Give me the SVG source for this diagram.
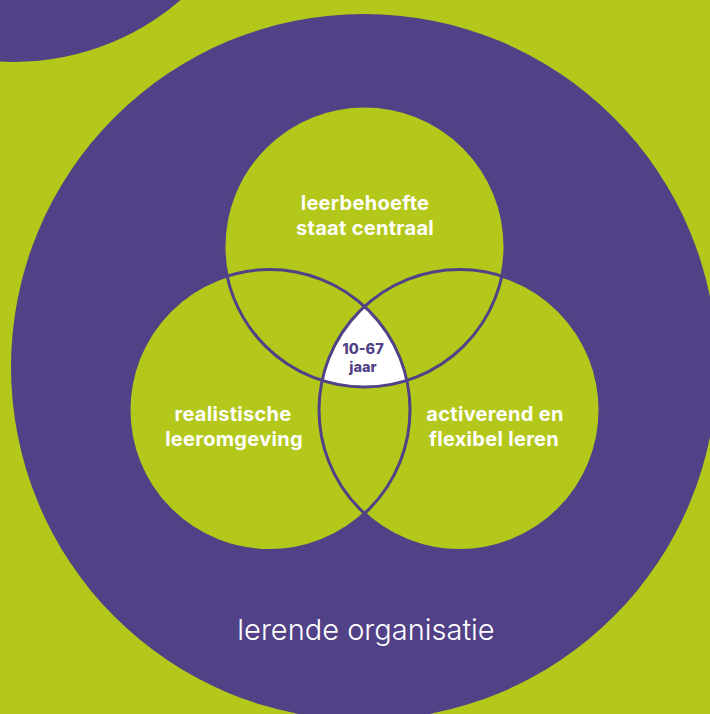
<svg xmlns="http://www.w3.org/2000/svg" width="710" height="714" viewBox="0 0 710 714">
<style>
.bg{fill:#b4c71b}
.pu{fill:#514186}
.gr{fill:#b4c71b}
.ring{fill:none;stroke:#514186;stroke-width:3}
.lbl{font-family:Inter,"Open Sans","Liberation Sans",sans-serif;font-weight:700;font-size:20px;letter-spacing:0.3px;fill:#ffffff;text-anchor:middle}
.core{font-family:Inter,"Open Sans","Liberation Sans",sans-serif;font-weight:800;font-size:14.5px;fill:#514186;text-anchor:middle}
.outer{font-family:Inter,"Open Sans","Liberation Sans",sans-serif;font-weight:300;font-size:29px;fill:#ffffff;text-anchor:middle}
</style>
<rect class="bg" x="0" y="0" width="710" height="714"/>
<circle class="pu" cx="14" cy="-193" r="255"/>
<g id="lerende-organisatie">
<circle class="pu" cx="364" cy="367" r="353"/>
<text class="outer" x="366" y="640">lerende organisatie</text>
</g>
<g id="fills">
<circle class="gr" cx="364.5" cy="246.5" r="140.5"/>
<circle class="gr" cx="269.5" cy="410" r="140.5"/>
<circle class="gr" cx="459.5" cy="410" r="140.5"/>
</g>
<g id="core">
<path d="M364.5 306.5 A140.5 140.5 0 0 0 322.2 380.5 A140.5 140.5 0 0 0 406.8 380.5 A140.5 140.5 0 0 0 364.5 306.5 Z" fill="#ffffff"/>
<text class="core" x="363" y="354">10-67</text>
<text class="core" x="363" y="372">jaar</text>
</g>
<g id="connectors">
<circle class="ring" cx="364.5" cy="246.5" r="140.5"/>
<circle class="ring" cx="269.5" cy="410" r="140.5"/>
<circle class="ring" cx="459.5" cy="410" r="140.5"/>
</g>
<g id="leerbehoefte">
<text class="lbl" x="365" y="210">leerbehoefte</text>
<text class="lbl" x="365" y="235">staat centraal</text>
</g>
<g id="realistische">
<text class="lbl" x="233" y="421">realistische</text>
<text class="lbl" x="234" y="446">leeromgeving</text>
</g>
<g id="activerend">
<text class="lbl" x="495" y="421">activerend en</text>
<text class="lbl" x="494" y="446">flexibel leren</text>
</g>
</svg>
